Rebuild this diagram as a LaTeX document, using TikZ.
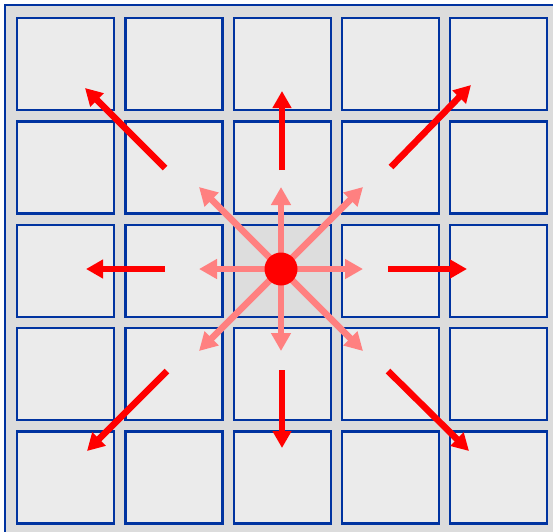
\documentclass[tikz,border=0pt]{standalone}
\usetikzlibrary{arrows.meta}
\definecolor{gridblue}{HTML}{0033A0}
\definecolor{cellgray}{HTML}{EBEBEB}
\definecolor{gapgray}{HTML}{DCDCDC}
\definecolor{midgray}{HTML}{DDDDDD}
\definecolor{hotred}{HTML}{FF0000}
\definecolor{softred}{HTML}{FF8080}
\tikzset{
  frame box/.style={
    draw=gridblue,
    fill=gapgray,
    line width=2.4pt,
  },
  cell node/.style={
    draw=gridblue,
    fill=cellgray,
    line width=2.4pt,
    minimum width=97pt,
    minimum height=92pt,
    inner sep=0pt,
    anchor=north west,
  },
  centre cell/.style={
    cell node,
    fill=midgray,
  },
  source dot/.style={
    circle,
    fill=hotred,
    minimum size=33pt,
    inner sep=0pt,
  },
  spread arrow/.style={
    softred,
    line width=6.5pt,
    -{Triangle[width=19pt,length=18pt]},
  },
  jump arrow/.style={
    hotred,
    line width=6.5pt,
    -{Triangle[width=18pt,length=17pt]},
  },
}

\begin{document}
\begin{tikzpicture}[x=1pt,y=-1pt]

  \useasboundingbox (0,0) rectangle (553,531);
  \clip (0,0) rectangle (553,531);
  \fill[white] (0,0) rectangle (553,531);

  % --- Frame ---
  \draw[frame box] (5,5) rectangle (575,555);

  % --- Grid of cells (5 x 5) ---
  \foreach \i in {0,...,4} {
    \foreach \j in {0,...,4} {
      \def\cellstyle{cell node}
      \ifnum\i=2 \ifnum\j=2 \def\cellstyle{centre cell}\fi\fi
      \node[\cellstyle] (c\i\j) at ({16+108.25*\i},{17+103.3*\j}) {};
    }
  }

  % --- Short spread arrows from the centre ---
  \coordinate (src) at (281,269);
  \foreach \n/\dx/\dy in {e/1/0, ne/1/-1, n/0/-1, nw/-1/-1, w/-1/0, sw/-1/1, s/0/1, se/1/1} {
    \coordinate (p\n) at ({281+82*\dx},{269+82*\dy});
    \draw[spread arrow] (src) -- (p\n);
  }

  % --- Centre dot ---
  \node[source dot] (dot) at (src) {};

  % --- Long jump arrows ---
  \foreach \n/\tx/\ty/\hx/\hy in {w/165/269/86/269, e/388/269/467/269,
      n/282/170/282/91, s/282/370/282/448, nw/165/168/85/88,
      ne/391/167/471/85, sw/167/371/87/451, se/388/371/469/451} {
    \coordinate (t\n) at (\tx,\ty);
    \coordinate (h\n) at (\hx,\hy);
    \draw[jump arrow] (t\n) -- (h\n);
  }

\end{tikzpicture}
\end{document}
